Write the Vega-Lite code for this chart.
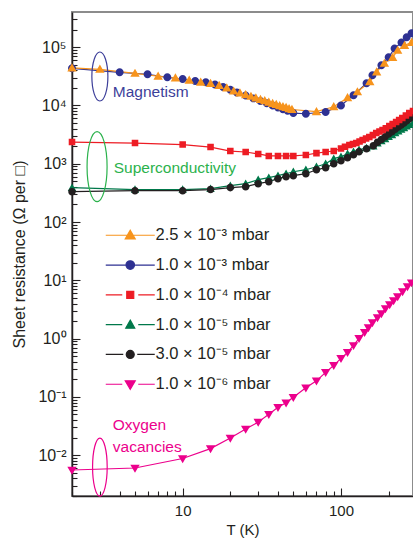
{
  "$schema": "https://vega.github.io/schema/vega-lite/v6.json",
  "width": 341,
  "height": 484,
  "autosize": {"type": "none"},
  "padding": {"left": 72, "top": 12, "right": 0, "bottom": 43},
  "background": "white",
  "config": {
    "view": {"stroke": "#8c8c8c", "strokeWidth": 2},
    "font": "Liberation Sans",
    "axis": {
      "grid": false,
      "domainColor": "#231f20",
      "domainWidth": 1.5,
      "tickColor": "#231f20",
      "tickWidth": 1.1,
      "labelColor": "#231f20",
      "titleColor": "#231f20",
      "labelFont": "Liberation Sans",
      "labelFontSize": 16,
      "titleFont": "Liberation Sans",
      "titleFontSize": 16,
      "titleFontWeight": "normal",
      "labelOverlap": false,
      "labelFlush": false
    }
  },
  "data": {
    "values": [
      {"p": "1.0 × 10⁻⁶ mbar", "T": 2, "R": 0.00558},
      {"p": "1.0 × 10⁻⁶ mbar", "T": 5, "R": 0.00604},
      {"p": "1.0 × 10⁻⁶ mbar", "T": 10, "R": 0.00879},
      {"p": "1.0 × 10⁻⁶ mbar", "T": 15, "R": 0.013},
      {"p": "1.0 × 10⁻⁶ mbar", "T": 20, "R": 0.0197},
      {"p": "1.0 × 10⁻⁶ mbar", "T": 25, "R": 0.0281},
      {"p": "1.0 × 10⁻⁶ mbar", "T": 30, "R": 0.037},
      {"p": "1.0 × 10⁻⁶ mbar", "T": 35, "R": 0.0506},
      {"p": "1.0 × 10⁻⁶ mbar", "T": 40, "R": 0.0667},
      {"p": "1.0 × 10⁻⁶ mbar", "T": 45, "R": 0.0796},
      {"p": "1.0 × 10⁻⁶ mbar", "T": 50, "R": 0.099},
      {"p": "1.0 × 10⁻⁶ mbar", "T": 60, "R": 0.144},
      {"p": "1.0 × 10⁻⁶ mbar", "T": 70, "R": 0.189},
      {"p": "1.0 × 10⁻⁶ mbar", "T": 80, "R": 0.264},
      {"p": "1.0 × 10⁻⁶ mbar", "T": 90, "R": 0.348},
      {"p": "1.0 × 10⁻⁶ mbar", "T": 100, "R": 0.459},
      {"p": "1.0 × 10⁻⁶ mbar", "T": 110, "R": 0.581},
      {"p": "1.0 × 10⁻⁶ mbar", "T": 120, "R": 0.765},
      {"p": "1.0 × 10⁻⁶ mbar", "T": 130, "R": 1.01},
      {"p": "1.0 × 10⁻⁶ mbar", "T": 141, "R": 1.28},
      {"p": "1.0 × 10⁻⁶ mbar", "T": 149, "R": 1.55},
      {"p": "1.0 × 10⁻⁶ mbar", "T": 158, "R": 1.89},
      {"p": "1.0 × 10⁻⁶ mbar", "T": 170, "R": 2.3},
      {"p": "1.0 × 10⁻⁶ mbar", "T": 180, "R": 2.69},
      {"p": "1.0 × 10⁻⁶ mbar", "T": 191, "R": 3.28},
      {"p": "1.0 × 10⁻⁶ mbar", "T": 203, "R": 3.84},
      {"p": "1.0 × 10⁻⁶ mbar", "T": 215, "R": 4.49},
      {"p": "1.0 × 10⁻⁶ mbar", "T": 228, "R": 5.26},
      {"p": "1.0 × 10⁻⁶ mbar", "T": 245, "R": 6.4},
      {"p": "1.0 × 10⁻⁶ mbar", "T": 263, "R": 7.8},
      {"p": "1.0 × 10⁻⁶ mbar", "T": 279, "R": 9.12},

      {"p": "1.0 × 10⁻⁵ mbar", "T": 2, "R": 389},
      {"p": "1.0 × 10⁻⁵ mbar", "T": 5, "R": 360},
      {"p": "1.0 × 10⁻⁵ mbar", "T": 10, "R": 360},
      {"p": "1.0 × 10⁻⁵ mbar", "T": 15, "R": 374},
      {"p": "1.0 × 10⁻⁵ mbar", "T": 20, "R": 421},
      {"p": "1.0 × 10⁻⁵ mbar", "T": 25, "R": 455},
      {"p": "1.0 × 10⁻⁵ mbar", "T": 30, "R": 532},
      {"p": "1.0 × 10⁻⁵ mbar", "T": 35, "R": 576},
      {"p": "1.0 × 10⁻⁵ mbar", "T": 40, "R": 623},
      {"p": "1.0 × 10⁻⁵ mbar", "T": 45, "R": 674},
      {"p": "1.0 × 10⁻⁵ mbar", "T": 50, "R": 729},
      {"p": "1.0 × 10⁻⁵ mbar", "T": 60, "R": 789},
      {"p": "1.0 × 10⁻⁵ mbar", "T": 70, "R": 887},
      {"p": "1.0 × 10⁻⁵ mbar", "T": 80, "R": 998},
      {"p": "1.0 × 10⁻⁵ mbar", "T": 90, "R": 1220},
      {"p": "1.0 × 10⁻⁵ mbar", "T": 100, "R": 1320},
      {"p": "1.0 × 10⁻⁵ mbar", "T": 110, "R": 1480},
      {"p": "1.0 × 10⁻⁵ mbar", "T": 120, "R": 1600},
      {"p": "1.0 × 10⁻⁵ mbar", "T": 130, "R": 1730},
      {"p": "1.0 × 10⁻⁵ mbar", "T": 145, "R": 1870},
      {"p": "1.0 × 10⁻⁵ mbar", "T": 160, "R": 2000},
      {"p": "1.0 × 10⁻⁵ mbar", "T": 170, "R": 2240},
      {"p": "1.0 × 10⁻⁵ mbar", "T": 180, "R": 2450},
      {"p": "1.0 × 10⁻⁵ mbar", "T": 190, "R": 2670},
      {"p": "1.0 × 10⁻⁵ mbar", "T": 200, "R": 2900},
      {"p": "1.0 × 10⁻⁵ mbar", "T": 210, "R": 3120},
      {"p": "1.0 × 10⁻⁵ mbar", "T": 220, "R": 3360},
      {"p": "1.0 × 10⁻⁵ mbar", "T": 230, "R": 3610},
      {"p": "1.0 × 10⁻⁵ mbar", "T": 240, "R": 3860},
      {"p": "1.0 × 10⁻⁵ mbar", "T": 250, "R": 4110},
      {"p": "1.0 × 10⁻⁵ mbar", "T": 260, "R": 4380},
      {"p": "1.0 × 10⁻⁵ mbar", "T": 270, "R": 4660},
      {"p": "1.0 × 10⁻⁵ mbar", "T": 285, "R": 4960},

      {"p": "3.0 × 10⁻⁵ mbar", "T": 2, "R": 332},
      {"p": "3.0 × 10⁻⁵ mbar", "T": 5, "R": 345},
      {"p": "3.0 × 10⁻⁵ mbar", "T": 10, "R": 345},
      {"p": "3.0 × 10⁻⁵ mbar", "T": 15, "R": 360},
      {"p": "3.0 × 10⁻⁵ mbar", "T": 20, "R": 389},
      {"p": "3.0 × 10⁻⁵ mbar", "T": 25, "R": 404},
      {"p": "3.0 × 10⁻⁵ mbar", "T": 30, "R": 455},
      {"p": "3.0 × 10⁻⁵ mbar", "T": 35, "R": 492},
      {"p": "3.0 × 10⁻⁵ mbar", "T": 40, "R": 554},
      {"p": "3.0 × 10⁻⁵ mbar", "T": 45, "R": 599},
      {"p": "3.0 × 10⁻⁵ mbar", "T": 50, "R": 623},
      {"p": "3.0 × 10⁻⁵ mbar", "T": 60, "R": 674},
      {"p": "3.0 × 10⁻⁵ mbar", "T": 70, "R": 789},
      {"p": "3.0 × 10⁻⁵ mbar", "T": 80, "R": 855},
      {"p": "3.0 × 10⁻⁵ mbar", "T": 90, "R": 1000},
      {"p": "3.0 × 10⁻⁵ mbar", "T": 100, "R": 1120},
      {"p": "3.0 × 10⁻⁵ mbar", "T": 110, "R": 1260},
      {"p": "3.0 × 10⁻⁵ mbar", "T": 120, "R": 1430},
      {"p": "3.0 × 10⁻⁵ mbar", "T": 130, "R": 1600},
      {"p": "3.0 × 10⁻⁵ mbar", "T": 145, "R": 1800},
      {"p": "3.0 × 10⁻⁵ mbar", "T": 160, "R": 2030},
      {"p": "3.0 × 10⁻⁵ mbar", "T": 170, "R": 2340},
      {"p": "3.0 × 10⁻⁵ mbar", "T": 180, "R": 2610},
      {"p": "3.0 × 10⁻⁵ mbar", "T": 190, "R": 2900},
      {"p": "3.0 × 10⁻⁵ mbar", "T": 200, "R": 3220},
      {"p": "3.0 × 10⁻⁵ mbar", "T": 210, "R": 3550},
      {"p": "3.0 × 10⁻⁵ mbar", "T": 220, "R": 3900},
      {"p": "3.0 × 10⁻⁵ mbar", "T": 230, "R": 4250},
      {"p": "3.0 × 10⁻⁵ mbar", "T": 240, "R": 4620},
      {"p": "3.0 × 10⁻⁵ mbar", "T": 250, "R": 5000},
      {"p": "3.0 × 10⁻⁵ mbar", "T": 260, "R": 5430},
      {"p": "3.0 × 10⁻⁵ mbar", "T": 270, "R": 5850},
      {"p": "3.0 × 10⁻⁵ mbar", "T": 285, "R": 6400},

      {"p": "1.0 × 10⁻⁴ mbar", "T": 2, "R": 2350},
      {"p": "1.0 × 10⁻⁴ mbar", "T": 5, "R": 2260},
      {"p": "1.0 × 10⁻⁴ mbar", "T": 10, "R": 2130},
      {"p": "1.0 × 10⁻⁴ mbar", "T": 15, "R": 1930},
      {"p": "1.0 × 10⁻⁴ mbar", "T": 20, "R": 1650},
      {"p": "1.0 × 10⁻⁴ mbar", "T": 25, "R": 1590},
      {"p": "1.0 × 10⁻⁴ mbar", "T": 30, "R": 1470},
      {"p": "1.0 × 10⁻⁴ mbar", "T": 35, "R": 1360},
      {"p": "1.0 × 10⁻⁴ mbar", "T": 40, "R": 1360},
      {"p": "1.0 × 10⁻⁴ mbar", "T": 45, "R": 1360},
      {"p": "1.0 × 10⁻⁴ mbar", "T": 50, "R": 1360},
      {"p": "1.0 × 10⁻⁴ mbar", "T": 60, "R": 1410},
      {"p": "1.0 × 10⁻⁴ mbar", "T": 70, "R": 1520},
      {"p": "1.0 × 10⁻⁴ mbar", "T": 80, "R": 1590},
      {"p": "1.0 × 10⁻⁴ mbar", "T": 90, "R": 1650},
      {"p": "1.0 × 10⁻⁴ mbar", "T": 100, "R": 1830},
      {"p": "1.0 × 10⁻⁴ mbar", "T": 106, "R": 1950},
      {"p": "1.0 × 10⁻⁴ mbar", "T": 113, "R": 2090},
      {"p": "1.0 × 10⁻⁴ mbar", "T": 119, "R": 2180},
      {"p": "1.0 × 10⁻⁴ mbar", "T": 125, "R": 2270},
      {"p": "1.0 × 10⁻⁴ mbar", "T": 131, "R": 2400},
      {"p": "1.0 × 10⁻⁴ mbar", "T": 137, "R": 2550},
      {"p": "1.0 × 10⁻⁴ mbar", "T": 144, "R": 2700},
      {"p": "1.0 × 10⁻⁴ mbar", "T": 151, "R": 2870},
      {"p": "1.0 × 10⁻⁴ mbar", "T": 159, "R": 3090},
      {"p": "1.0 × 10⁻⁴ mbar", "T": 167, "R": 3360},
      {"p": "1.0 × 10⁻⁴ mbar", "T": 175, "R": 3560},
      {"p": "1.0 × 10⁻⁴ mbar", "T": 183, "R": 3780},
      {"p": "1.0 × 10⁻⁴ mbar", "T": 192, "R": 4070},
      {"p": "1.0 × 10⁻⁴ mbar", "T": 202, "R": 4430},
      {"p": "1.0 × 10⁻⁴ mbar", "T": 212, "R": 4790},
      {"p": "1.0 × 10⁻⁴ mbar", "T": 223, "R": 5190},
      {"p": "1.0 × 10⁻⁴ mbar", "T": 233, "R": 5600},
      {"p": "1.0 × 10⁻⁴ mbar", "T": 244, "R": 6070},
      {"p": "1.0 × 10⁻⁴ mbar", "T": 257, "R": 6700},
      {"p": "1.0 × 10⁻⁴ mbar", "T": 270, "R": 7380},
      {"p": "1.0 × 10⁻⁴ mbar", "T": 285, "R": 8000},

      {"p": "1.0 × 10⁻³ mbar", "T": 2, "R": 43300},
      {"p": "1.0 × 10⁻³ mbar", "T": 4, "R": 37000},
      {"p": "1.0 × 10⁻³ mbar", "T": 6, "R": 34200},
      {"p": "1.0 × 10⁻³ mbar", "T": 8, "R": 30300},
      {"p": "1.0 × 10⁻³ mbar", "T": 10, "R": 28400},
      {"p": "1.0 × 10⁻³ mbar", "T": 12, "R": 26200},
      {"p": "1.0 × 10⁻³ mbar", "T": 14, "R": 25000},
      {"p": "1.0 × 10⁻³ mbar", "T": 16, "R": 22900},
      {"p": "1.0 × 10⁻³ mbar", "T": 18, "R": 20700},
      {"p": "1.0 × 10⁻³ mbar", "T": 20, "R": 18500},
      {"p": "1.0 × 10⁻³ mbar", "T": 22, "R": 16600},
      {"p": "1.0 × 10⁻³ mbar", "T": 25, "R": 14800},
      {"p": "1.0 × 10⁻³ mbar", "T": 28, "R": 13200},
      {"p": "1.0 × 10⁻³ mbar", "T": 31, "R": 11900},
      {"p": "1.0 × 10⁻³ mbar", "T": 34, "R": 10900},
      {"p": "1.0 × 10⁻³ mbar", "T": 37, "R": 10000},
      {"p": "1.0 × 10⁻³ mbar", "T": 40, "R": 9200},
      {"p": "1.0 × 10⁻³ mbar", "T": 43, "R": 8600},
      {"p": "1.0 × 10⁻³ mbar", "T": 46, "R": 8100},
      {"p": "1.0 × 10⁻³ mbar", "T": 50, "R": 7400},
      {"p": "1.0 × 10⁻³ mbar", "T": 60, "R": 7200},
      {"p": "1.0 × 10⁻³ mbar", "T": 80, "R": 7700},
      {"p": "1.0 × 10⁻³ mbar", "T": 100, "R": 10000},
      {"p": "1.0 × 10⁻³ mbar", "T": 120, "R": 15000},
      {"p": "1.0 × 10⁻³ mbar", "T": 145, "R": 24000},
      {"p": "1.0 × 10⁻³ mbar", "T": 158, "R": 33000},
      {"p": "1.0 × 10⁻³ mbar", "T": 180, "R": 49000},
      {"p": "1.0 × 10⁻³ mbar", "T": 200, "R": 67000},
      {"p": "1.0 × 10⁻³ mbar", "T": 218, "R": 95000},
      {"p": "1.0 × 10⁻³ mbar", "T": 241, "R": 120000},
      {"p": "1.0 × 10⁻³ mbar", "T": 260, "R": 147000},
      {"p": "1.0 × 10⁻³ mbar", "T": 279, "R": 173000},

      {"p": "2.5 × 10⁻³ mbar", "T": 2, "R": 44000},
      {"p": "2.5 × 10⁻³ mbar", "T": 3, "R": 41600},
      {"p": "2.5 × 10⁻³ mbar", "T": 5, "R": 35500},
      {"p": "2.5 × 10⁻³ mbar", "T": 7, "R": 31600},
      {"p": "2.5 × 10⁻³ mbar", "T": 9, "R": 29500},
      {"p": "2.5 × 10⁻³ mbar", "T": 11, "R": 27000},
      {"p": "2.5 × 10⁻³ mbar", "T": 13, "R": 25000},
      {"p": "2.5 × 10⁻³ mbar", "T": 15, "R": 23800},
      {"p": "2.5 × 10⁻³ mbar", "T": 17, "R": 22000},
      {"p": "2.5 × 10⁻³ mbar", "T": 19, "R": 19900},
      {"p": "2.5 × 10⁻³ mbar", "T": 21, "R": 17600},
      {"p": "2.5 × 10⁻³ mbar", "T": 23, "R": 16400},
      {"p": "2.5 × 10⁻³ mbar", "T": 25, "R": 15200},
      {"p": "2.5 × 10⁻³ mbar", "T": 27, "R": 14300},
      {"p": "2.5 × 10⁻³ mbar", "T": 29, "R": 13400},
      {"p": "2.5 × 10⁻³ mbar", "T": 31, "R": 12600},
      {"p": "2.5 × 10⁻³ mbar", "T": 33, "R": 12000},
      {"p": "2.5 × 10⁻³ mbar", "T": 35, "R": 11300},
      {"p": "2.5 × 10⁻³ mbar", "T": 37, "R": 10800},
      {"p": "2.5 × 10⁻³ mbar", "T": 39, "R": 10400},
      {"p": "2.5 × 10⁻³ mbar", "T": 41, "R": 9900},
      {"p": "2.5 × 10⁻³ mbar", "T": 43, "R": 9500},
      {"p": "2.5 × 10⁻³ mbar", "T": 45, "R": 9200},
      {"p": "2.5 × 10⁻³ mbar", "T": 47, "R": 8800},
      {"p": "2.5 × 10⁻³ mbar", "T": 49, "R": 8500},
      {"p": "2.5 × 10⁻³ mbar", "T": 70, "R": 7800},
      {"p": "2.5 × 10⁻³ mbar", "T": 90, "R": 9500},
      {"p": "2.5 × 10⁻³ mbar", "T": 110, "R": 13500},
      {"p": "2.5 × 10⁻³ mbar", "T": 127, "R": 17100},
      {"p": "2.5 × 10⁻³ mbar", "T": 152, "R": 25400},
      {"p": "2.5 × 10⁻³ mbar", "T": 168, "R": 37500},
      {"p": "2.5 × 10⁻³ mbar", "T": 188, "R": 52700},
      {"p": "2.5 × 10⁻³ mbar", "T": 212, "R": 66700},
      {"p": "2.5 × 10⁻³ mbar", "T": 228, "R": 88000},
      {"p": "2.5 × 10⁻³ mbar", "T": 252, "R": 107000},
      {"p": "2.5 × 10⁻³ mbar", "T": 279, "R": 120000}
    ]
  },
  "encoding": {
    "x": {
      "field": "T",
      "type": "quantitative",
      "scale": {"type": "log", "domain": [2, 285]},
      "axis": {
        "title": "T (K)",
        "values": [2, 3, 4, 5, 6, 7, 8, 9, 10, 20, 30, 40, 50, 60, 70, 80, 90, 100, 200],
        "labelExpr": "datum.value == 10 ? '10' : (datum.value == 100 ? '100' : '')",
        "tickSize": {"condition": {"test": "datum.value == 10 || datum.value == 100", "value": -8}, "value": -5},
        "labelFontSize": 15,
        "titleFontSize": 15,
        "labelPadding": 15,
        "titlePadding": 1
      }
    },
    "y": {
      "field": "R",
      "type": "quantitative",
      "scale": {"type": "log", "domain": [0.002, 400000]},
      "axis": {
        "title": "Sheet resistance (Ω per □)",
        "values": [0.002, 0.003, 0.004, 0.005, 0.006, 0.007, 0.008, 0.009,
                   0.01, 0.02, 0.03, 0.04, 0.05, 0.06, 0.07, 0.08, 0.09,
                   0.1, 0.2, 0.3, 0.4, 0.5, 0.6, 0.7, 0.8, 0.9,
                   1, 2, 3, 4, 5, 6, 7, 8, 9,
                   10, 20, 30, 40, 50, 60, 70, 80, 90,
                   100, 200, 300, 400, 500, 600, 700, 800, 900,
                   1000, 2000, 3000, 4000, 5000, 6000, 7000, 8000, 9000,
                   10000, 20000, 30000, 40000, 50000, 60000, 70000, 80000, 90000,
                   100000, 200000, 300000],
        "labelExpr": "abs(log(datum.value)/LN10 - round(log(datum.value)/LN10)) < 0.001 ? '10' + (round(log(datum.value)/LN10) < 0 ? '⁻' : '') + ['⁰','¹','²','³','⁴','⁵','⁶','⁷','⁸','⁹'][abs(round(log(datum.value)/LN10))] : ''",
        "tickSize": {"condition": {"test": "abs(log(datum.value)/LN10 - round(log(datum.value)/LN10)) < 0.001", "value": -8}, "value": -5},
        "labelPadding": 14,
        "titlePadding": 10
      }
    }
  },
  "layer": [
    {
      "mark": {"type": "line", "strokeWidth": 1.2, "interpolate": "linear"},
      "encoding": {
        "color": {
          "field": "p",
          "type": "nominal",
          "scale": {
            "domain": ["2.5 × 10⁻³ mbar", "1.0 × 10⁻³ mbar", "1.0 × 10⁻⁴ mbar", "1.0 × 10⁻⁵ mbar", "3.0 × 10⁻⁵ mbar", "1.0 × 10⁻⁶ mbar"],
            "range": ["#f7941d", "#2e3192", "#ed1c24", "#00784a", "#231f20", "#ec008c"]
          },
          "legend": {
            "orient": "none",
            "legendX": 50,
            "legendY": 215,
            "title": null,
            "labelFont": "Liberation Sans",
            "labelFontSize": 16.5,
            "labelColor": "#231f20",
            "labelLimit": 0,
            "symbolSize": 100,
            "symbolStrokeWidth": 1.2,
            "labelOffset": 17,
            "rowPadding": 12.8,
            "padding": 0
          }
        }
      }
    },
    {
      "mark": {"type": "point", "filled": true, "size": 88, "opacity": 1},
      "encoding": {
        "color": {"field": "p", "type": "nominal"},
        "shape": {
          "field": "p",
          "type": "nominal",
          "scale": {
            "domain": ["2.5 × 10⁻³ mbar", "1.0 × 10⁻³ mbar", "1.0 × 10⁻⁴ mbar", "1.0 × 10⁻⁵ mbar", "3.0 × 10⁻⁵ mbar", "1.0 × 10⁻⁶ mbar"],
            "range": [
              "M -4.9 0 L 4.9 0 M 0 -1 L 1 0.75 L -1 0.75 Z",
              "M -4.9 0 L 4.9 0 M -0.85 0 A 0.85 0.85 0 1 0 0.85 0 A 0.85 0.85 0 1 0 -0.85 0 Z",
              "M -4.9 0 L -1.6 0 M 1.6 0 L 4.9 0 M -0.7 -0.7 L 0.7 -0.7 L 0.7 0.7 L -0.7 0.7 Z",
              "M -4.9 0 L -1.6 0 M 1.6 0 L 4.9 0 M 0 -0.9 L 0.9 0.7 L -0.9 0.7 Z",
              "M -4.9 0 L -1.4 0 M 1.4 0 L 4.9 0 M -0.8 0 A 0.8 0.8 0 1 0 0.8 0 A 0.8 0.8 0 1 0 -0.8 0 Z",
              "M -4.9 0 L -1.6 0 M 1.6 0 L 4.9 0 M -1 -0.7 L 1 -0.7 L 0 1 Z"
            ]
          },
          "legend": null
        }
      }
    },
    {
      "data": {"values": [{"k": "m", "T": 3.0, "R": 31300}]},
      "mark": {"type": "point", "filled": false, "shape": "M -0.327 0 A 0.327 1 0 1 0 0.327 0 A 0.327 1 0 1 0 -0.327 0 Z", "size": 2401, "stroke": "#3d3f9a", "strokeWidth": 1.2, "opacity": 1}
    },
    {
      "data": {"values": [{"k": "s", "T": 2.88, "R": 889}]},
      "mark": {"type": "point", "filled": false, "shape": "M -0.286 0 A 0.286 1 0 1 0 0.286 0 A 0.286 1 0 1 0 -0.286 0 Z", "size": 4900, "stroke": "#2bb24c", "strokeWidth": 1.2, "opacity": 1}
    },
    {
      "data": {"values": [{"k": "o", "T": 3.0, "R": 0.00628}]},
      "mark": {"type": "point", "filled": false, "shape": "M -0.252 0 A 0.252 1 0 1 0 0.252 0 A 0.252 1 0 1 0 -0.252 0 Z", "size": 3364, "stroke": "#ec008c", "strokeWidth": 1.2, "opacity": 1}
    },
    {
      "data": {
        "values": [
          {"k": "m", "T": 3.62, "R": 13900, "label": "Magnetism"},
          {"k": "s", "T": 3.67, "R": 687, "label": "Superconductivity"},
          {"k": "o", "T": 3.62, "R": 0.0274, "label": "Oxygen"},
          {"k": "o", "T": 3.62, "R": 0.0113, "label": "vacancies"}
        ]
      },
      "mark": {"type": "text", "align": "left", "baseline": "alphabetic", "font": "Liberation Sans", "fontSize": 15.5},
      "encoding": {
        "text": {"field": "label"},
        "color": {
          "condition": [
            {"test": "datum.k == 'm'", "value": "#3d3f9a"},
            {"test": "datum.k == 's'", "value": "#2bb24c"}
          ],
          "value": "#ec008c"
        }
      }
    }
  ]
}
